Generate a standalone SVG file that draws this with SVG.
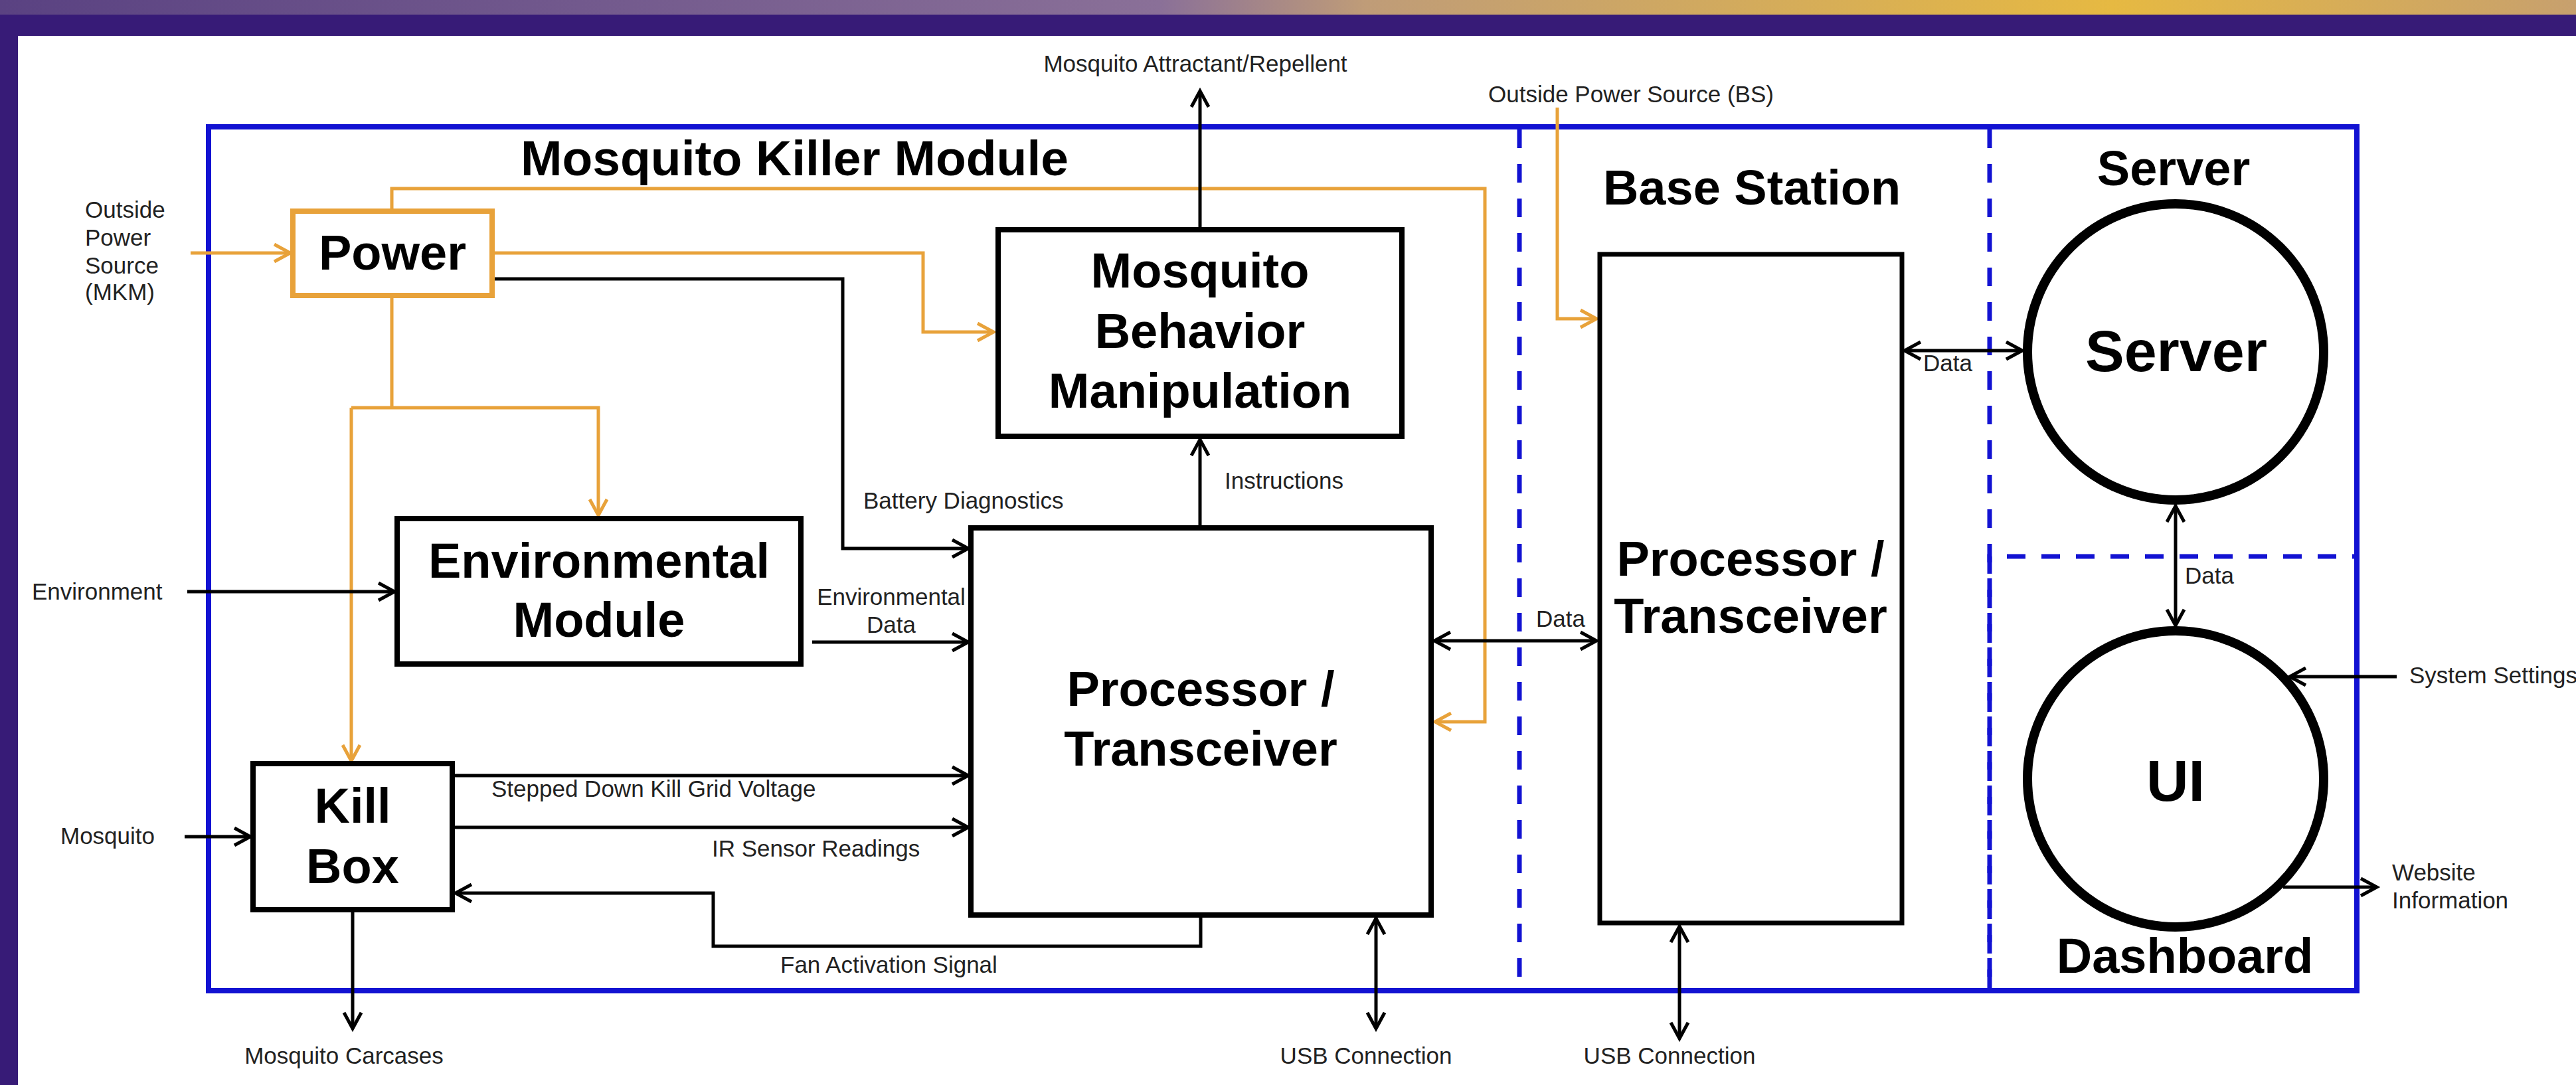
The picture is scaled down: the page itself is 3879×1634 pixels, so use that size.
<svg xmlns="http://www.w3.org/2000/svg" width="3879" height="1634" viewBox="0 0 3879 1634">
<defs>
<linearGradient id="topg" x1="0" y1="0" x2="1" y2="0">
<stop offset="0" stop-color="#5a4282"/>
<stop offset="0.45" stop-color="#8a7098"/>
<stop offset="0.53" stop-color="#bf9c78"/>
<stop offset="0.82" stop-color="#e6b942"/>
<stop offset="1" stop-color="#c7a06e"/>
</linearGradient>
<marker id="ab" markerUnits="userSpaceOnUse" markerWidth="40" markerHeight="40" viewBox="-2 -2 40 40" refX="28" refY="14" orient="auto-start-reverse" overflow="visible">
<path d="M4,1 L28,14 L4,27" fill="none" stroke="#000" stroke-width="5" stroke-linejoin="miter"/>
</marker>
<marker id="ao" markerUnits="userSpaceOnUse" markerWidth="40" markerHeight="40" viewBox="-2 -2 40 40" refX="28" refY="14" orient="auto-start-reverse" overflow="visible">
<path d="M4,1 L28,14 L4,27" fill="none" stroke="#e8a23a" stroke-width="5" stroke-linejoin="miter"/>
</marker>
</defs>
<style>
.box{fill:#fff;stroke:#000;stroke-width:8}
.pbox{fill:#fff;stroke:#e8a23a;stroke-width:8}
.circ{fill:#fff;stroke:#000;stroke-width:14}
.frame{fill:none;stroke:#1212d2;stroke-width:8}
.dash{fill:none;stroke:#1212d2;stroke-width:7;stroke-dasharray:28 24}
.bl{fill:none;stroke:#000;stroke-width:5}
.or{fill:none;stroke:#e8a23a;stroke-width:5}
.arr{marker-end:url(#ab)}
.arro{marker-end:url(#ao)}
.dbl{marker-start:url(#ab);marker-end:url(#ab)}
.t{font-family:"Liberation Sans",Arial,sans-serif;font-weight:bold;font-size:74px;fill:#000}
.lb{font-family:"Liberation Sans",Arial,sans-serif;font-size:35px;fill:#222}
.m{text-anchor:middle}
</style>
<rect x="0" y="0" width="3879" height="1634" fill="#fff"/>
<rect x="0" y="0" width="3879" height="22" fill="url(#topg)"/>
<rect x="0" y="22" width="3879" height="32" fill="#371b77"/>
<rect x="0" y="22" width="27" height="1612" fill="#371b77"/>

<g id="frame">
<rect class="frame" x="314" y="191" width="3235" height="1301"/>
<line class="dash" x1="2288" y1="195" x2="2288" y2="1488"/>
<line class="dash" x1="2996" y1="195" x2="2996" y2="1488"/>
<path class="dash" d="M2996,1488 V838 H3545"/>
</g>

<text class="t" x="784" y="264" style="font-size:75px">Mosquito Killer Module</text>
<text class="t m" x="2638" y="308">Base Station</text>
<text class="t m" x="3273" y="279">Server</text>
<text class="t m" x="3290" y="1465">Dashboard</text>

<g id="connectors">
<!-- orange power lines -->
<path class="or arro" d="M287,381 H437"/>
<path class="or arro" d="M590,318 V284 H2236 V1087 H2161"/>
<path class="or arro" d="M745,381 H1390 V500 H1496"/>
<path class="or" d="M590,449 V614"/>
<path class="or arro" d="M529,614 H901 V776"/>
<path class="or arro" d="M529,614 V1146"/>
<path class="or arro" d="M2345,162 V480 H2404"/>
<!-- black lines -->
<path class="bl arr" d="M745,420 H1269 V826 H1458"/>
<path class="bl arr" d="M282,891 H594"/>
<path class="bl arr" d="M1223,967 H1458"/>
<path class="bl arr" d="M685,1168 H1458"/>
<path class="bl arr" d="M685,1246 H1458"/>
<path class="bl arr" d="M1808,1382 V1425 H1074 V1345 H686"/>
<path class="bl arr" d="M278,1260 H377"/>
<path class="bl arr" d="M531,1374 V1549"/>
<path class="bl arr" d="M1807,791 V662"/>
<path class="bl arr" d="M1807,342 V137"/>
<path class="bl dbl" d="M2072,1383 V1549"/>
<path class="bl dbl" d="M2160,965 H2404"/>
<path class="bl dbl" d="M2529,1395 V1564"/>
<path class="bl dbl" d="M2868,528 H3045"/>
<path class="bl dbl" d="M3276,762 V942"/>
<path class="bl arr" d="M3609,1019 H3448"/>
<path class="bl arr" d="M3438,1336 H3579"/>
</g>

<g id="labels">
<text class="lb m" x="1800" y="108">Mosquito Attractant/Repellent</text>
<text class="lb" x="2241" y="154">Outside Power Source (BS)</text>
<text class="lb" x="128" y="328">Outside</text>
<text class="lb" x="128" y="370">Power</text>
<text class="lb" x="128" y="412">Source</text>
<text class="lb" x="128" y="452">(MKM)</text>
<text class="lb" x="48" y="903">Environment</text>
<text class="lb" x="91" y="1271">Mosquito</text>
<text class="lb" x="1300" y="766">Battery Diagnostics</text>
<text class="lb" x="1844" y="736">Instructions</text>
<text class="lb m" x="1342" y="911">Environmental</text>
<text class="lb m" x="1342" y="953">Data</text>
<text class="lb" x="740" y="1200">Stepped Down Kill Grid Voltage</text>
<text class="lb" x="1072" y="1290">IR Sensor Readings</text>
<text class="lb" x="1175" y="1465">Fan Activation Signal</text>
<text class="lb m" x="518" y="1602">Mosquito Carcases</text>
<text class="lb m" x="2057" y="1602">USB Connection</text>
<text class="lb m" x="2514" y="1602">USB Connection</text>
<text class="lb" x="2313" y="944">Data</text>
<text class="lb" x="2896" y="559">Data</text>
<text class="lb" x="3290" y="879">Data</text>
<text class="lb" x="3628" y="1029">System Settings</text>
<text class="lb" x="3602" y="1326">Website</text>
<text class="lb" x="3602" y="1368">Information</text>
</g>

<g id="power">
<rect class="pbox" x="441" y="318" width="300" height="127"/>
<text class="t m" x="591" y="406">Power</text>
</g>
<g id="mbm">
<rect class="box" x="1503" y="346" width="608" height="311"/>
<text class="t m" x="1807" y="433">Mosquito</text>
<text class="t m" x="1807" y="524">Behavior</text>
<text class="t m" x="1807" y="614">Manipulation</text>
</g>
<g id="env">
<rect class="box" x="598" y="781" width="608" height="219"/>
<text class="t m" x="902" y="870">Environmental</text>
<text class="t m" x="902" y="959">Module</text>
</g>
<g id="proc-mkm">
<rect class="box" x="1462" y="795" width="693" height="583"/>
<text class="t m" x="1808" y="1063">Processor /</text>
<text class="t m" x="1808" y="1153">Transceiver</text>
</g>
<g id="killbox">
<rect class="box" x="381" y="1150" width="300" height="220"/>
<text class="t m" x="531" y="1239">Kill</text>
<text class="t m" x="531" y="1330">Box</text>
</g>
<g id="proc-bs">
<rect class="box" x="2409" y="383" width="455" height="1007" style="stroke-width:7"/>
<text class="t m" x="2636" y="867">Processor /</text>
<text class="t m" x="2636" y="953">Transceiver</text>
</g>
<g id="server">
<circle class="circ" cx="3276" cy="530" r="223"/>
<text class="t m" x="3277" y="559" style="font-size:88px">Server</text>
</g>
<g id="ui">
<circle class="circ" cx="3276" cy="1173" r="223"/>
<text class="t m" x="3276" y="1206" style="font-size:88px">UI</text>
</g>
</svg>
